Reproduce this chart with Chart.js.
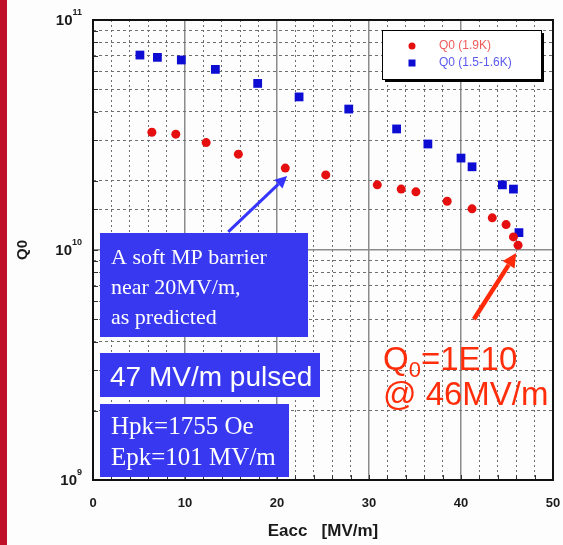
<!DOCTYPE html>
<html>
<head>
<meta charset="utf-8">
<script src="https://cdn.jsdelivr.net/npm/chart.js@4"></script>
<style>
html,body{margin:0;padding:0;background:#fdfdfd;}
canvas{display:block;}
</style>
</head>
<body>
<canvas id="c" width="563" height="545"></canvas>
<script>
// ---- data ----
const redLabel = 'Q0 (1.9K)';
const redX = [6.4, 9.0, 12.3, 15.8, 20.9, 25.3, 30.9, 33.5, 35.1, 38.5, 41.2, 43.4, 44.9, 45.7, 46.2];
const redQ = [3.25e10, 3.19e10, 2.93e10, 2.61e10, 2.27e10, 2.12e10, 1.92e10, 1.84e10, 1.79e10, 1.63e10, 1.51e10, 1.38e10, 1.29e10, 1.14e10, 1.05e10];
const blueLabel = 'Q0 (1.5-1.6K)';
const blueX = [5.1, 7.0, 9.6, 13.3, 17.9, 22.4, 27.8, 33.0, 36.4, 40.0, 41.2, 44.5, 45.7, 46.3];
const blueQ = [7.04e10, 6.88e10, 6.7e10, 6.1e10, 5.3e10, 4.63e10, 4.1e10, 3.36e10, 2.89e10, 2.51e10, 2.3e10, 1.92e10, 1.84e10, 1.19e10];
const xTickLabels = [0, 10, 20, 30, 40, 50];
const yDecades = [1e9, 1e10, 1e11];
const xTitle = 'Eacc   [MV/m]';
const yTitle = 'Q0';

const RED = '#e50f0f';
const BLUE = '#0c0cd2';
const BOXBLUE = '#3838f0';

function pts(xs, ys){ return xs.map((x,i)=>({x:x, y:ys[i]})); }
function isDecade(v){ const l = Math.log10(v); return Math.abs(l - Math.round(l)) < 1e-6; }
function noPad(s){ s.paddingLeft = 0; s.paddingRight = 0; s.paddingTop = 0; s.paddingBottom = 0; }

const deco = {
  id: 'deco',
  beforeDraw(chart){
    const c = chart.ctx;
    c.save();
    c.fillStyle = '#fdfdfd';
    c.fillRect(0,0,chart.width,chart.height);
    c.fillStyle = '#c0102a';
    c.fillRect(0,0,7,chart.height);
    c.restore();
  },
  afterDraw(chart){
    const c = chart.ctx;
    const a = chart.chartArea;
    const xs = chart.scales.x, ys = chart.scales.y;
    c.save();
    // inner tick marks
    c.strokeStyle = '#333'; c.lineWidth = 1;
    ys.ticks.forEach(t=>{
      const y = Math.round(ys.getPixelForValue(t.value))+0.5;
      c.beginPath(); c.moveTo(a.left, y); c.lineTo(a.left+5, y); c.stroke();
    });
    xs.ticks.forEach(t=>{
      const x = Math.round(xs.getPixelForValue(t.value))+0.5;
      c.beginPath(); c.moveTo(x, a.bottom); c.lineTo(x, a.bottom-5); c.stroke();
    });
    // frame
    c.strokeStyle = '#111'; c.lineWidth = 2;
    c.strokeRect(a.left, a.top, a.right-a.left, a.bottom-a.top);
    // decade labels with superscripts
    c.fillStyle = '#1a1a1a';
    c.textBaseline = 'middle';
    yDecades.forEach(v=>{
      const y = ys.getPixelForValue(v);
      const e = String(Math.round(Math.log10(v)));
      c.font = 'bold 9px "Liberation Sans", Arial, sans-serif';
      const ew = c.measureText(e).width;
      const right = 82;
      c.textAlign = 'left';
      c.fillText(e, right-ew, y-7);
      c.font = 'bold 15px "Liberation Sans", Arial, sans-serif';
      c.textAlign = 'right';
      c.fillText('10', right-ew, y+1);
    });
    // legend
    const lx = 382, ly = 30, lw = 159, lh = 49;
    c.fillStyle = '#000';
    c.fillRect(lx+3, ly+3, lw, lh);
    c.fillStyle = '#fff';
    c.fillRect(lx, ly, lw, lh);
    c.strokeStyle = '#000'; c.lineWidth = 1;
    c.strokeRect(lx+0.5, ly+0.5, lw, lh);
    const ds = chart.data.datasets;
    c.fillStyle = ds[0].backgroundColor;
    c.beginPath(); c.arc(412, 46, 3.5, 0, Math.PI*2); c.fill();
    c.fillStyle = ds[1].backgroundColor;
    c.fillRect(408.5, 59.5, 7, 7);
    c.font = '12px "Liberation Sans", Arial, sans-serif';
    c.textAlign = 'left'; c.textBaseline = 'middle';
    c.fillStyle = '#f05a5a'; c.fillText(ds[0].label, 439, 46);
    c.fillStyle = '#5a5af0'; c.fillText(ds[1].label, 439, 63);

    // blue annotation boxes
    c.fillStyle = BOXBLUE;
    c.fillRect(100, 233, 208, 104);
    c.fillRect(100, 353, 220, 44);
    c.fillRect(100, 404, 189, 73);
    c.fillStyle = '#ffffff';
    c.textAlign = 'left'; c.textBaseline = 'alphabetic';
    c.font = '22px "Liberation Serif", "Times New Roman", serif';
    c.fillText('A soft MP barrier', 111, 264);
    c.fillText('near 20MV/m,', 111, 294);
    c.fillText('as predicted', 111, 324);
    c.font = '25px "Liberation Serif", "Times New Roman", serif';
    c.fillText('Hpk=1755 Oe', 111, 434);
    c.fillText('Epk=101 MV/m', 111, 465);
    c.font = '28px "Liberation Sans", Arial, sans-serif';
    c.fillText('47 MV/m pulsed', 110, 386);

    // arrows anchored in data coordinates
    function arrow(x0,y0,x1,y1,color,w,hl,hw){
      const p0x = xs.getPixelForValue(x0), p0y = ys.getPixelForValue(y0);
      const p1x = xs.getPixelForValue(x1), p1y = ys.getPixelForValue(y1);
      const ang = Math.atan2(p1y-p0y, p1x-p0x);
      const bx = p1x - hl*Math.cos(ang), by = p1y - hl*Math.sin(ang);
      c.strokeStyle = color; c.fillStyle = color; c.lineWidth = w; c.lineCap = 'butt';
      c.beginPath(); c.moveTo(p0x,p0y); c.lineTo(bx,by); c.stroke();
      c.beginPath();
      c.moveTo(p1x,p1y);
      c.lineTo(bx + hw*Math.sin(ang), by - hw*Math.cos(ang));
      c.lineTo(bx - hw*Math.sin(ang), by + hw*Math.cos(ang));
      c.closePath(); c.fill();
    }
    arrow(14.7, 1.2e10, 21.1, 2.1e10, '#3535ff', 3, 12, 6);
    arrow(41.4, 5.0e9, 46.0, 9.7e9, '#ff2a0a', 4.5, 14, 7);

    // red annotation text
    c.fillStyle = '#ff2d0a';
    c.textAlign = 'left'; c.textBaseline = 'alphabetic';
    c.font = '33px "Liberation Sans", Arial, sans-serif';
    c.fillText('Q', 383, 370);
    let qw = c.measureText('Q').width;
    c.font = '22px "Liberation Sans", Arial, sans-serif';
    c.fillText('0', 383+qw, 377);
    let zw = c.measureText('0').width;
    c.font = '33px "Liberation Sans", Arial, sans-serif';
    c.fillText('=1E10', 383+qw+zw, 370);
    c.fillText('@ 46MV/m', 383, 405);
    c.restore();
  }
};

new Chart(document.getElementById('c'), {
  type: 'scatter',
  data: {
    datasets: [
      { label: redLabel, data: pts(redX, redQ), backgroundColor: RED, borderColor: RED, borderWidth: 0, pointStyle: 'circle', pointRadius: 4.5, pointHoverRadius: 4.5 },
      { label: blueLabel, data: pts(blueX, blueQ), backgroundColor: BLUE, borderColor: BLUE, borderWidth: 0, pointStyle: 'rect', pointRadius: 6.2, pointHoverRadius: 6.2 }
    ]
  },
  options: {
    responsive: false,
    animation: false,
    events: [],
    layout: { padding: { top: 20, right: 10, left: 0, bottom: 0 } },
    plugins: { legend: { display: false }, tooltip: { enabled: false } },
    scales: {
      x: {
        type: 'linear', min: 0, max: 50,
        afterFit(s){ s.height = 65; noPad(s); },
        ticks: {
          stepSize: 2, autoSkip: false, maxRotation: 0,
          callback: v => xTickLabels.includes(v) ? String(v) : '',
          font: { family: '"Liberation Sans", Arial, sans-serif', size: 13, weight: 'bold' },
          color: '#1a1a1a', padding: 16
        },
        grid: {
          drawTicks: false,
          color: ctx => (ctx.tick && ctx.tick.value % 10 === 0) ? '#8c8c8c' : '#6e6e6e',
          lineWidth: ctx => (ctx.tick && ctx.tick.value % 10 === 0) ? 1.5 : 1
        },
        border: {
          display: false,
          dash: ctx => (ctx.tick && ctx.tick.value % 10 !== 0) ? [2, 3] : []
        },
        title: {
          display: true, text: xTitle, color: '#1a1a1a',
          font: { family: '"Liberation Sans", Arial, sans-serif', size: 17, weight: 'bold' },
          padding: { top: 0, bottom: 3 }
        }
      },
      y: {
        type: 'logarithmic', min: 1e9, max: 1e11,
        afterFit(s){ s.width = 93; noPad(s); },
        ticks: { display: false, autoSkip: false },
        grid: {
          drawTicks: false,
          color: ctx => (ctx.tick && isDecade(ctx.tick.value)) ? '#8c8c8c' : '#6e6e6e',
          lineWidth: ctx => (ctx.tick && isDecade(ctx.tick.value)) ? 1.5 : 1
        },
        border: {
          display: false,
          dash: ctx => (ctx.tick && !isDecade(ctx.tick.value)) ? [3, 3] : []
        },
        title: {
          display: true, text: yTitle, color: '#1a1a1a',
          font: { family: '"Liberation Sans", Arial, sans-serif', size: 15, weight: 'bold' },
          padding: { top: 14, bottom: 0 }
        }
      }
    }
  },
  plugins: [deco]
});
</script>
</body>
</html>
